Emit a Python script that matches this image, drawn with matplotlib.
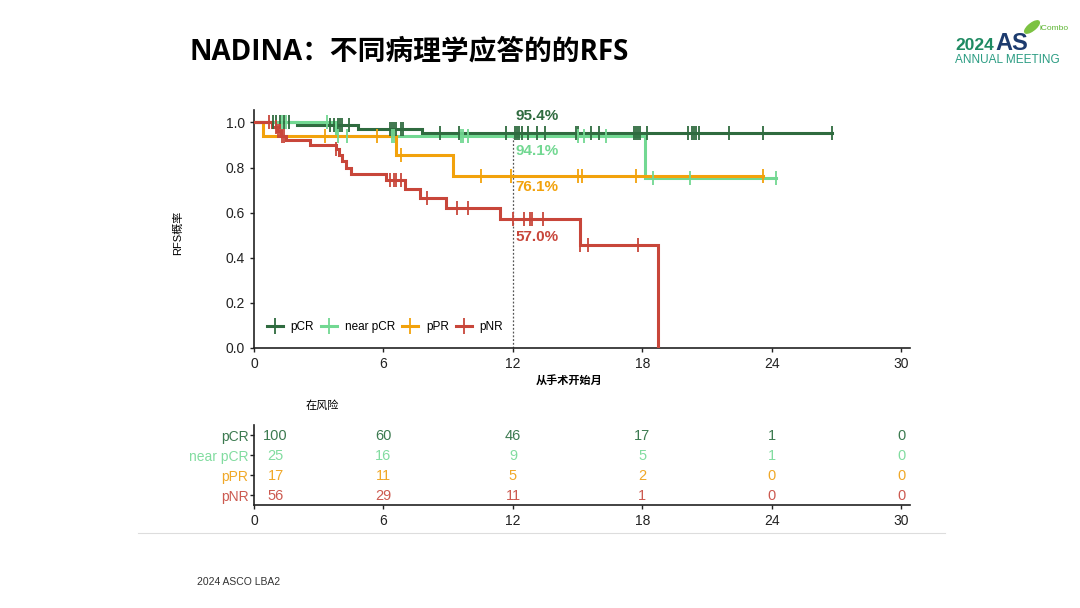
import numpy as np
import matplotlib
matplotlib.use("Agg")
import matplotlib.pyplot as plt
from matplotlib.lines import Line2D
from matplotlib.patches import Ellipse

plt.rcParams['font.family'] = ['Liberation Sans', 'Noto Sans CJK SC', 'DejaVu Sans']

# ---------------- data ----------------
groups = ["pCR", "near pCR", "pPR", "pNR"]
colors = ["#2f6b3f", "#72d892", "#f2a20c", "#c8463a"]
text_colors = ["#3c7a50", "#82dca0", "#f0a828", "#cc5a50"]

pcr_times = [0, 2.0, 4.8, 7.8]
pcr_surv = [1.0, 0.99, 0.972, 0.954]
pcr_end = 26.8
pcr_cens = [0.9, 1.0, 1.2, 1.4, 1.6, 3.5, 3.7, 3.9, 4.0, 4.1, 4.4, 6.3, 6.4, 6.5,
            6.6, 6.8, 6.9, 8.6, 9.5, 11.7, 12.1, 12.2, 12.3, 12.4, 12.7, 13.1,
            13.5, 14.9, 15.0, 15.6, 16.0, 17.6, 17.7, 17.8, 17.9, 18.2, 20.1,
            20.3, 20.4, 20.5, 20.6, 22.0, 23.6, 26.8]

npcr_times = [0, 3.8, 18.1]
npcr_surv = [1.0, 0.941, 0.753]
npcr_end = 24.2
npcr_cens = [1.3, 1.5, 3.4, 3.9, 4.3, 6.4, 6.5, 9.6, 9.7, 9.9, 15.0, 15.3, 16.3,
             18.5, 20.2, 24.2]

ppr_times = [0, 0.4, 6.6, 9.2]
ppr_surv = [1.0, 0.941, 0.857, 0.761]
ppr_end = 23.6
ppr_cens = [3.3, 5.7, 6.8, 10.5, 11.9, 15.0, 15.2, 17.7, 23.6]

pnr_times = [0, 0.85, 1.05, 1.25, 1.5, 2.6, 3.8, 3.95, 4.1, 4.25, 4.5, 6.1, 7.0,
             7.7, 8.9, 11.4, 15.1, 18.7]
pnr_surv = [1.0, 0.98, 0.96, 0.94, 0.92, 0.90, 0.88, 0.855, 0.83, 0.80, 0.77,
            0.745, 0.707, 0.667, 0.622, 0.570, 0.456, 0.0]
pnr_end = 18.7
pnr_cens = [0.7, 1.0, 1.1, 1.2, 1.3, 1.4, 3.8, 6.3, 6.5, 6.6, 6.8, 8.0, 9.4, 9.9,
            12.0, 12.5, 12.8, 12.9, 13.4, 15.1, 15.5, 17.8]

rate_labels = ["95.4%", "94.1%", "76.1%", "57.0%"]
rate_y = [1.028, 0.872, 0.712, 0.49]

risk_times = [0, 6, 12, 18, 24, 30]
risk_pcr = [100, 60, 46, 17, 1, 0]
risk_npcr = [25, 16, 9, 5, 1, 0]
risk_ppr = [17, 11, 5, 2, 0, 0]
risk_pnr = [56, 29, 11, 1, 0, 0]

x_ticks = [0, 6, 12, 18, 24, 30]
y_ticks = [0.0, 0.2, 0.4, 0.6, 0.8, 1.0]

curves = [
    (pcr_times, pcr_surv, pcr_end, pcr_cens),
    (npcr_times, npcr_surv, npcr_end, npcr_cens),
    (ppr_times, ppr_surv, ppr_end, ppr_cens),
    (pnr_times, pnr_surv, pnr_end, pnr_cens),
]
risks = [risk_pcr, risk_npcr, risk_ppr, risk_pnr]

# ---------------- figure ----------------
fig = plt.figure(figsize=(10.8, 6.08), dpi=100)

def surv_at(times, surv, t):
    idx = np.searchsorted(np.asarray(times), t, side='right') - 1
    return np.asarray(surv)[idx]

ax = fig.add_axes([254/1080, 1-348/608, (910-254)/1080, (348-110)/608])
for (t, s, end, cens), c in zip(curves, colors):
    tt = list(t) + [end]
    ss = list(s) + [s[-1]]
    ax.step(tt, ss, where='post', color=c, lw=2.2, zorder=3, solid_joinstyle='miter')
    cx = np.asarray(cens)
    cy = surv_at(t, s, cx)
    ax.plot(cx, cy, ls='none', marker='|', ms=10, mew=1.3, color=c, zorder=4)

ax.plot([12, 12], [0, 0.96], ls=(0, (1.5, 1.5)), color='#555555', lw=0.9, zorder=2)
for lab, y, c in zip(rate_labels, rate_y, colors):
    ax.text(12.1, y, lab, color=c, fontsize=11, fontweight='bold', va='center', ha='left')

ax.set_xlim(0, 30.4)
ax.set_ylim(0, 1.055)
ax.set_xticks(x_ticks)
ax.set_yticks(y_ticks)
ax.set_yticklabels([f"{v:.1f}" for v in y_ticks])
ax.tick_params(labelsize=10, length=3, width=1, colors='#222222')
for sp in ['top', 'right']:
    ax.spines[sp].set_visible(False)
for sp in ['left', 'bottom']:
    ax.spines[sp].set_linewidth(1.2)
    ax.spines[sp].set_color('#222222')
fig.text(178/1080, 1-233/608, "RFS概率", fontsize=8, rotation=90, ha='center', va='center')
fig.text(569/1080, 1-381/608, "从手术开始月", fontsize=8, fontweight='bold', ha='center', va='center')

handles = [Line2D([0], [0], color=c, lw=2.2, marker='|', ms=11, mew=1.3) for c in colors]
ax.legend(handles, groups, loc='center left', bbox_to_anchor=(0.02, 0.088), ncol=4,
          frameon=False, fontsize=8.5, handlelength=1.35, handletextpad=0.65,
          columnspacing=0.6, borderaxespad=0.0, borderpad=0.0)

# ---------------- risk table ----------------
rx = fig.add_axes([254/1080, 1-505/608, (910-254)/1080, 80/608])
for i, (r, c) in enumerate(zip(risks, text_colors)):
    yrow = 3.5 - i
    for t, n in zip(risk_times, r):
        xp = t if t > 0 else 1.0
        rx.text(xp, yrow, str(n), color=c, fontsize=10.5, ha='center', va='center_baseline')
rx.set_xlim(0, 30.4)
rx.set_ylim(0, 4)
rx.set_xticks(x_ticks)
rx.set_yticks([3.5, 2.5, 1.5, 0.5])
rx.set_yticklabels(groups)
for lbl, c in zip(rx.get_yticklabels(), text_colors):
    lbl.set_color(c)
rx.tick_params(axis='y', labelsize=10, length=3, width=1, pad=1, color='#222222')
rx.tick_params(axis='x', labelsize=10, length=3, width=1, colors='#222222')
for sp in ['top', 'right']:
    rx.spines[sp].set_visible(False)
for sp in ['left', 'bottom']:
    rx.spines[sp].set_linewidth(1.2)
    rx.spines[sp].set_color('#222222')
fig.text(322/1080, 1-406/608, "在风险", fontsize=8, ha='center', va='center')

# ---------------- slide decorations ----------------
fig.text(190/1080, 1-52/608, "NADINA：不同病理学应答的的RFS", fontsize=20,
         fontweight='bold', ha='left', va='center', family=['Open Sans', 'Noto Sans CJK SC'])
fig.add_artist(Line2D([138/1080, 945/1080], [1-533/608, 1-533/608], color='#dddddd', lw=0.8))
fig.text(197/1080, 1-582/608, "2024 ASCO LBA2", fontsize=7.5, ha='left', va='center', color='#333333')

# logo
fig.text(955/1080, 1-45/608, "2024", fontsize=12.5, fontweight='bold', color='#1f8a62', ha='left', va='center')
fig.text(995/1080, 1-43/608, "AS", fontsize=17, fontweight='bold', color='#1d3b6e', ha='left', va='center')
fig.text(955/1080, 1-60/608, "ANNUAL MEETING", fontsize=8.5, color='#2a9c82', ha='left', va='center')
fig.text(1040/1080, 1-28/608, "iCombo", fontsize=6, color='#5cb531', ha='left', va='center')
fig.add_artist(Ellipse((1032/1080, 1-27/608), 9/1080, 14/608, angle=-30, color='#7cc242',
                       transform=fig.transFigure))

fig.savefig("out.png", dpi=100, facecolor='white')
